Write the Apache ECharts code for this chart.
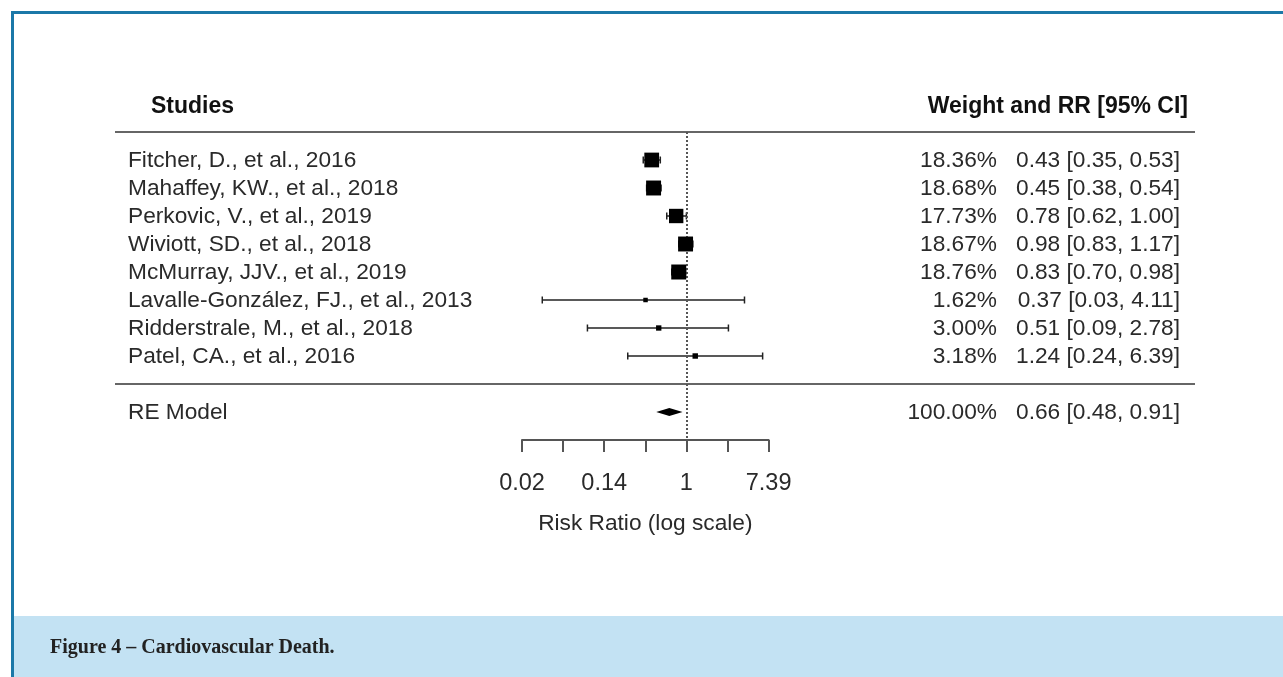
<!DOCTYPE html>
<html>
<head>
<meta charset="utf-8">
<script src="https://cdn.jsdelivr.net/npm/echarts@6/dist/echarts.min.js"></script>
<style>
  html, body { margin: 0; padding: 0; background: #ffffff; }
  #chart { width: 1283px; height: 677px; }
</style>
</head>
<body>
<div id="chart"></div>
<script>
// Study-level results (risk ratio with 95% CI and random-effects weight)
const studies = [
  'Fitcher, D., et al., 2016',
  'Mahaffey, KW., et al., 2018',
  'Perkovic, V., et al., 2019',
  'Wiviott, SD., et al., 2018',
  'McMurray, JJV., et al., 2019',
  'Lavalle-González, FJ., et al., 2013',
  'Ridderstrale, M., et al., 2018',
  'Patel, CA., et al., 2016'
];
const weights  = [18.36, 18.68, 17.73, 18.67, 18.76, 1.62, 3.00, 3.18];
const rr       = [0.43, 0.45, 0.78, 0.98, 0.83, 0.37, 0.51, 1.24];
const ciLower  = [0.35, 0.38, 0.62, 0.83, 0.70, 0.03, 0.09, 0.24];
const ciUpper  = [0.53, 0.54, 1.00, 1.17, 0.98, 4.11, 2.78, 6.39];

// Pooled random-effects estimate
const pooledLabel  = 'RE Model';
const pooledWeight = 100.00;
const pooledRR     = 0.66;
const pooledLower  = 0.48;
const pooledUpper  = 0.91;

// Axis ticks on the natural-log scale; labels only on even steps
const logTicks    = [-4, -3, -2, -1, 0, 1, 2];
const labeledLogs = [-4, -2, 0, 2];

// Headers and caption
const studyHeader  = 'Studies';
const resultHeader = 'Weight and RR [95% CI]';
const axisTitle    = 'Risk Ratio (log scale)';
const caption      = 'Figure 4 – Cardiovascular Death.';

// ---------------------------------------------------------------
const SANS = "'Liberation Sans', Arial, Helvetica, sans-serif";
const SERIF = "'Liberation Serif', 'Times New Roman', serif";
const TEXT = '#2a2a2a';
const BODY_SIZE = 22.7;
const ln = Math.log;

const pooledRow = studies.length + 1;   // one blank row for the rule
const ruleRows = [-1, studies.length];

const wMin = Math.min(...weights), wMax = Math.max(...weights);
const boxSize = w => 4.5 + (w - wMin) / (wMax - wMin) * 10.5;

const fmt2 = v => v.toFixed(2);
const rrText = (e, l, u) => `${fmt2(e)} [${fmt2(l)}, ${fmt2(u)}]`;

const textRows = studies.map((s, i) => [i, s, fmt2(weights[i]) + '%', rrText(rr[i], ciLower[i], ciUpper[i])]);
textRows.push([pooledRow, pooledLabel, fmt2(pooledWeight) + '%', rrText(pooledRR, pooledLower, pooledUpper)]);

const chart = echarts.init(document.getElementById('chart'), null, { renderer: 'canvas' });

chart.setOption({
  animation: false,
  backgroundColor: '#ffffff',
  grid: { left: 522, right: 514.4, top: 132, bottom: 237 },
  xAxis: {
    type: 'value',
    min: logTicks[0],
    max: logTicks[logTicks.length - 1],
    interval: 1,
    position: 'bottom',
    axisLine: { show: true, onZero: false, lineStyle: { color: '#555', width: 2 } },
    axisTick: { show: true, length: 12, lineStyle: { color: '#555', width: 2 } },
    splitLine: { show: false },
    axisLabel: {
      margin: 44,
      verticalAlign: 'middle',
      fontFamily: SANS,
      fontSize: 23.5,
      color: TEXT,
      formatter: v => labeledLogs.includes(v) ? String(parseFloat(Math.exp(v).toFixed(2))) : ''
    },
    name: axisTitle,
    nameLocation: 'middle',
    nameGap: 84,
    nameTextStyle: { fontFamily: SANS, fontSize: BODY_SIZE, color: TEXT, verticalAlign: 'middle' }
  },
  yAxis: {
    type: 'value',
    min: -1,
    max: 10,
    inverse: true,
    show: false
  },
  graphic: [
    { type: 'rect', shape: { x: 14, y: 616, width: 1269, height: 61 }, style: { fill: '#c3e2f3' }, silent: true },
    { type: 'line', shape: { x1: 12.5, y1: 11, x2: 12.5, y2: 677 }, style: { stroke: '#1b78a8', lineWidth: 3 }, silent: true },
    { type: 'line', shape: { x1: 11, y1: 12.5, x2: 1283, y2: 12.5 }, style: { stroke: '#1b78a8', lineWidth: 3 }, silent: true },
    { type: 'text', x: 50, y: 648, style: { text: caption, font: 'bold 20px ' + SERIF, fill: '#222', verticalAlign: 'middle' }, silent: true },
    { type: 'text', x: 151, y: 107, style: { text: studyHeader, font: 'bold 23px ' + SANS, fill: '#111', verticalAlign: 'middle' }, silent: true },
    { type: 'text', x: 1188, y: 107, style: { text: resultHeader, font: 'bold 23px ' + SANS, fill: '#111', align: 'right', verticalAlign: 'middle' }, silent: true }
  ],
  series: [
    {
      // table rules below the header and above the pooled row, plus the null line
      type: 'custom',
      name: 'rules',
      silent: true,
      z: 1,
      data: ruleRows.map(r => [0, r]),
      renderItem: (params, api) => {
        const y = api.coord([0, api.value(1)])[1];
        return { type: 'line', shape: { x1: 115, y1: y, x2: 1195, y2: y }, style: { stroke: '#666', lineWidth: 2 } };
      },
      markLine: {
        silent: true,
        symbol: 'none',
        label: { show: false },
        lineStyle: { color: '#555', width: 2, type: [2, 2] },
        data: [[{ coord: [0, -1] }, { coord: [0, 10] }]]
      }
    },
    {
      // confidence intervals with end caps
      type: 'custom',
      name: 'intervals',
      silent: true,
      z: 2,
      data: studies.map((s, i) => [ln(ciLower[i]), ln(ciUpper[i]), i]),
      renderItem: (params, api) => {
        const a = api.coord([api.value(0), api.value(2)]);
        const b = api.coord([api.value(1), api.value(2)]);
        const st = { stroke: '#222', lineWidth: 1.5 };
        return {
          type: 'group',
          children: [
            { type: 'line', shape: { x1: a[0], y1: a[1], x2: b[0], y2: b[1] }, style: st },
            { type: 'line', shape: { x1: a[0], y1: a[1] - 3.5, x2: a[0], y2: a[1] + 3.5 }, style: st },
            { type: 'line', shape: { x1: b[0], y1: b[1] - 3.5, x2: b[0], y2: b[1] + 3.5 }, style: st }
          ]
        };
      }
    },
    {
      // point estimates, box area scaled by weight
      type: 'scatter',
      name: 'estimates',
      silent: true,
      z: 5,
      symbol: 'rect',
      symbolSize: v => boxSize(v[2]),
      itemStyle: { color: '#000', opacity: 1 },
      data: studies.map((s, i) => [ln(rr[i]), i, weights[i]])
    },
    {
      // pooled estimate diamond
      type: 'custom',
      name: 'pooled',
      silent: true,
      z: 5,
      data: [[ln(pooledLower), ln(pooledRR), ln(pooledUpper), pooledRow]],
      renderItem: (params, api) => {
        const row = api.value(3);
        const l = api.coord([api.value(0), row]);
        const m = api.coord([api.value(1), row]);
        const r = api.coord([api.value(2), row]);
        return {
          type: 'polygon',
          shape: { points: [l, [m[0], m[1] - 4], r, [m[0], m[1] + 4]] },
          style: { fill: '#000' }
        };
      }
    },
    {
      // study names, weights and RR [95% CI] text columns
      type: 'custom',
      name: 'table',
      silent: true,
      clip: false,
      data: textRows,
      renderItem: (params, api) => {
        const row = textRows[params.dataIndex];
        const y = api.coord([0, row[0]])[1] + 1;
        const font = BODY_SIZE + 'px ' + SANS;
        return {
          type: 'group',
          children: [
            { type: 'text', x: 128, y: y, style: { text: row[1], font, fill: TEXT, verticalAlign: 'middle' } },
            { type: 'text', x: 997, y: y, style: { text: row[2], font, fill: TEXT, align: 'right', verticalAlign: 'middle' } },
            { type: 'text', x: 1180, y: y, style: { text: row[3], font, fill: TEXT, align: 'right', verticalAlign: 'middle' } }
          ]
        };
      }
    }
  ]
});
</script>
</body>
</html>
